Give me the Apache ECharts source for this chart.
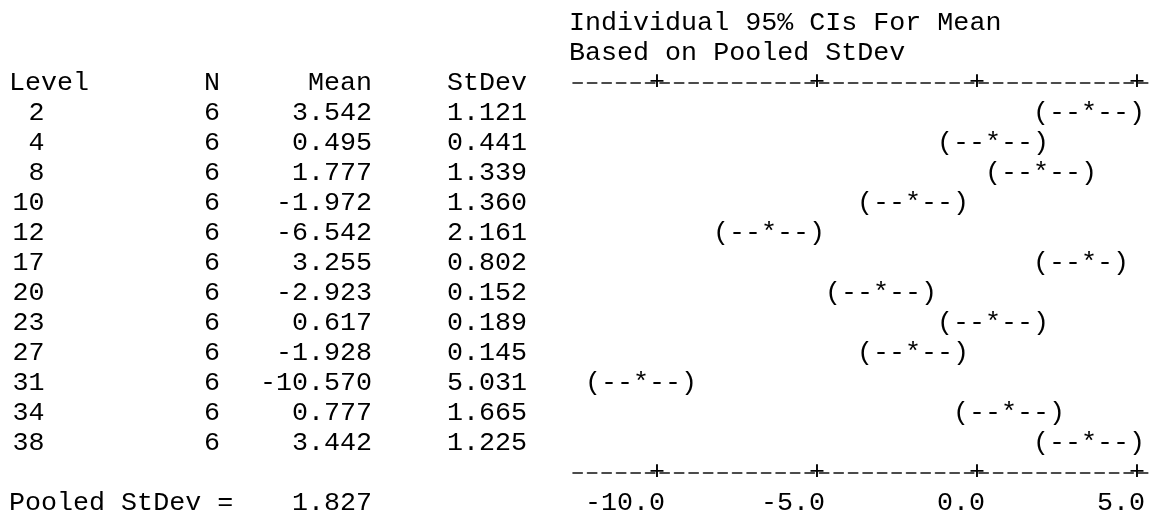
<!DOCTYPE html>
<html>
<head>
<meta charset="utf-8">
<script src="https://cdn.jsdelivr.net/npm/echarts@6.0.0/dist/echarts.min.js"></script>
<style>
html, body { margin: 0; padding: 0; background: #fff; }
#main { width: 1155px; height: 516px; }
</style>
</head>
<body>
<div id="main"></div>
<script>
var levels = ['2', '4', '8', '10', '12', '17', '20', '23', '27', '31', '34', '38'];
var counts = [6, 6, 6, 6, 6, 6, 6, 6, 6, 6, 6, 6];
var means = [3.542, 0.495, 1.777, -1.972, -6.542, 3.255, -2.923, 0.617, -1.928, -10.570, 0.777, 3.442];
var stdevs = [1.121, 0.441, 1.339, 1.360, 2.161, 0.802, 0.152, 0.189, 0.145, 5.031, 1.665, 1.225];
var pooledStDev = 1.827;
var tCrit = 2.000;   // t(0.975, 60)
var tickValues = [-10, -5, 0, 5];

var FONT = 'Liberation Mono';
var SIZE = 26.7;
var ink = '#000';
var fontStr = SIZE + 'px "' + FONT + '", monospace';
var gridLeft = 573;

var chart = echarts.init(document.getElementById('main'));

// interval for each level, from the pooled stdev
var ciData = means.map(function(m, i) {
  var h = tCrit * pooledStDev / Math.sqrt(counts[i]);
  return [m, m - h, m + h, i];
});

// text output works in half-unit character columns
function snap(v) { return Math.round(v * 2) / 2; }

function renderCI(params, api) {
  var m = snap(api.value(0)), lo = snap(api.value(1)), hi = snap(api.value(2));
  var row = api.value(3);
  var kids = [];
  for (var c = lo; c <= hi; c += 0.5) {
    var ch = c === lo ? '(' : (c === hi ? ')' : (c === m ? '*' : '-'));
    var p = api.coord([c, row]);
    kids.push({
      type: 'text', x: p[0], y: p[1],
      style: { text: ch, font: fontStr, fill: ink, align: 'center', verticalAlign: 'middle', textAlign: 'center', textVerticalAlign: 'middle' }
    });
  }
  return { type: 'group', children: kids };
}

function colAxis(right, fmt) {
  return {
    type: 'category', data: levels, inverse: true, position: 'left',
    offset: gridLeft - right,
    axisLine: { show: false, onZero: false }, axisTick: { show: false }, splitLine: { show: false },
    axisLabel: { interval: 0, margin: 0, formatter: fmt, color: ink, fontFamily: FONT, fontSize: SIZE }
  };
}

// dashed rule with a '+' at each tick
function ruler(pos, lift) {
  return {
    type: 'value', position: pos, offset: 15, min: -12.625, max: 5.5,
    axisLine: { show: true, onZero: false, lineStyle: { color: '#111', width: 1.6, type: [9.3, 5.2] } },
    axisTick: { show: false }, splitLine: { show: false },
    axisLabel: { customValues: tickValues, formatter: function() { return '+'; }, margin: lift,
      verticalAlign: 'middle', color: ink, fontFamily: FONT, fontSize: SIZE }
  };
}

function txt(text, x, y, align) {
  return {
    type: 'text', x: x, y: y,
    style: { text: text, font: fontStr, fill: ink, align: align, verticalAlign: 'middle', textAlign: align, textVerticalAlign: 'middle' }
  };
}

chart.setOption({
  backgroundColor: '#fff',
  animation: false,
  grid: { left: gridLeft, right: 2, top: 98, bottom: 58, outerBoundsMode: 'none' },
  xAxis: [
    ruler('top', 1),
    ruler('bottom', -1),
    {
      // tick numbers end at the right edge of the '+' column
      type: 'value', position: 'bottom', offset: 15, min: -12.875, max: 5.25,
      axisLine: { show: false, onZero: false }, axisTick: { show: false }, splitLine: { show: false },
      axisLabel: { customValues: tickValues, formatter: function(v) { return v.toFixed(1); },
        align: 'right', verticalAlign: 'middle', margin: 30, color: ink, fontFamily: FONT, fontSize: SIZE }
    }
  ],
  yAxis: [
    colAxis(44.5, function(v) { return v; }),
    colAxis(220, function(v, i) { return String(counts[i]); }),
    colAxis(372, function(v, i) { return means[i].toFixed(3); }),
    colAxis(527, function(v, i) { return stdevs[i].toFixed(3); })
  ],
  graphic: [
    txt('Individual 95% CIs For Mean', 569, 23, 'left'),
    txt('Based on Pooled StDev', 569, 53, 'left'),
    txt('Level', 9, 83, 'left'),
    txt('N', 220, 83, 'right'),
    txt('Mean', 372, 83, 'right'),
    txt('StDev', 527, 83, 'right'),
    txt('Pooled StDev =', 9, 503, 'left'),
    txt(pooledStDev.toFixed(3), 372, 503, 'right')
  ],
  series: [{
    type: 'custom',
    xAxisIndex: 0,
    yAxisIndex: 0,
    renderItem: renderCI,
    encode: { x: [0, 1, 2], y: 3 },
    data: ciData
  }]
});
</script>
</body>
</html>
